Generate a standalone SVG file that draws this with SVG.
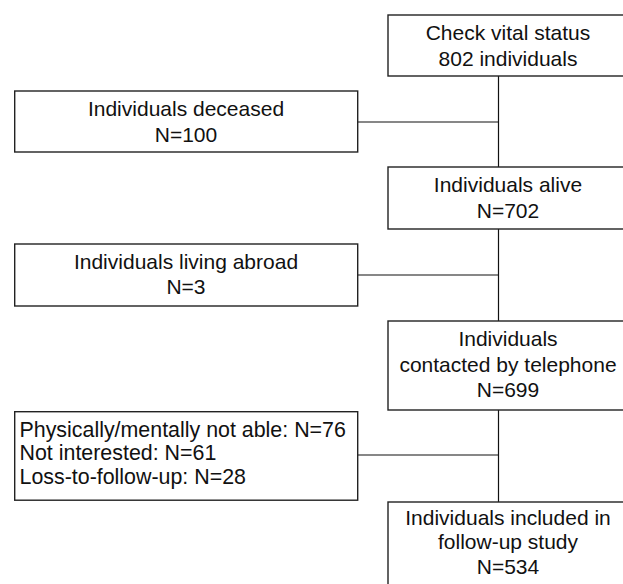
<svg xmlns="http://www.w3.org/2000/svg" width="623" height="584" viewBox="0 0 623 584">
<style>
.box{fill:#fff;stroke:#222;stroke-width:1.4}
.ln{fill:none;stroke:#111;stroke-width:1.2}
text{font-family:"Liberation Sans",Arial,sans-serif;font-size:21px;fill:#111}
.c{text-anchor:middle}
.l{font-size:21.4px}
</style>
<rect width="623" height="584" fill="#fff"/>
<g id="connectors">
<path class="ln" d="M498.5 76V167M498.5 229V321M498.5 410V502M358 122H498.5M358 275H498.5M358 455H498.5"/>
</g>
<g id="n1"><rect class="box" x="388" y="15" width="240" height="61"/>
<text class="c" x="508" y="39.5">Check vital status</text><text class="c" x="508" y="65.5">802 individuals</text></g>
<g id="n2"><rect class="box" x="14.7" y="91" width="343" height="61"/>
<text class="c" x="186" y="115.5">Individuals deceased</text><text class="c" x="186" y="141.5">N=100</text></g>
<g id="n3"><rect class="box" x="388" y="167" width="240" height="62"/>
<text class="c" x="508" y="191.5">Individuals alive</text><text class="c" x="508" y="217.5">N=702</text></g>
<g id="n4"><rect class="box" x="14.7" y="244" width="343" height="62"/>
<text class="c" x="186" y="268.5">Individuals living abroad</text><text class="c" x="186" y="294">N=3</text></g>
<g id="n5"><rect class="box" x="388" y="321" width="240" height="89"/>
<text class="c" x="508" y="346">Individuals</text><text class="c" x="508" y="371.5">contacted by telephone</text><text class="c" x="508" y="397">N=699</text></g>
<g id="n6"><rect class="box" x="14.7" y="411.7" width="343" height="88.5"/>
<text class="l" x="19.5" y="436.5">Physically/mentally not able: N=76</text><text class="l" x="19.5" y="460">Not interested: N=61</text><text class="l" x="19.5" y="483.5">Loss-to-follow-up: N=28</text></g>
<g id="n7"><rect class="box" x="388" y="502" width="240" height="90"/>
<text class="c" x="508" y="525">Individuals included in</text><text class="c" x="508" y="549">follow-up study</text><text class="c" x="508" y="574">N=534</text></g>
</svg>
